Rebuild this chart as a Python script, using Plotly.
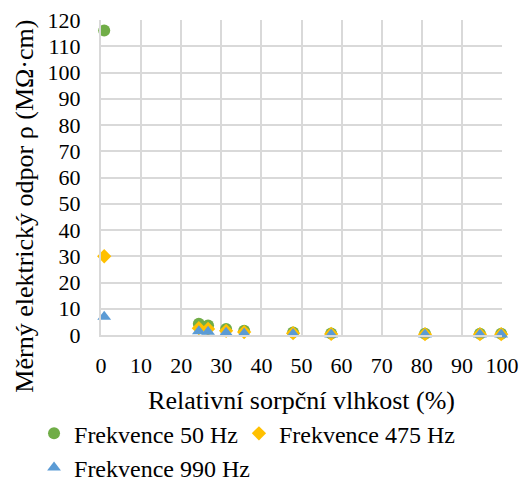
import plotly.graph_objects as go

# Relative sorption humidity (%) and resistivity (MΩ·cm) for three frequencies
humidity = [0.8, 24.4, 26.7, 31.2, 35.7, 47.9, 57.4, 80.8, 94.5, 99.8]
rho_50 = [116.0, 4.3, 3.6, 2.3, 1.6, 1.0, 0.6, 0.5, 0.5, 0.5]
rho_475 = [30.0, 2.6, 2.3, 1.6, 1.1, 0.7, 0.4, 0.3, 0.3, 0.3]
rho_990 = [7.0, 1.4, 1.2, 0.9, 0.6, 0.4, 0.2, 0.2, 0.2, 0.2]

# name, values, symbol, colour, size, legend group box
series = [
    ("Frekvence 50 Hz", rho_50, "circle", "#70ad47", 12, "legend"),
    ("Frekvence 475 Hz", rho_475, "diamond", "#ffc000", 11, "legend2"),
    ("Frekvence 990 Hz", rho_990, "triangle-up", "#5b9bd5", 12, "legend"),
]

x_ticks = list(range(0, 101, 10))
y_ticks = list(range(0, 121, 10))

x_title = "Relativní sorpční vlhkost (%)"
y_title = "Měrný elektrický odpor ρ (MΩ·cm)"

fig = go.Figure()
for name, vals, sym, col, size, leg in series:
    fig.add_trace(go.Scatter(
        x=humidity, y=vals, mode="markers", name=name, legend=leg,
        marker=dict(symbol=sym, color=col, size=size, line=dict(width=0)),
        cliponaxis=False,
    ))

font = "Liberation Serif"
grid = "#d9d9d9"
legend_common = dict(
    orientation="v", xanchor="left", yanchor="top", y=-0.242,
    font=dict(family=font, size=24), itemwidth=30, tracegroupgap=0,
    bgcolor="rgba(0,0,0,0)",
)
fig.update_layout(
    width=522, height=481,
    margin=dict(l=101, r=20, t=20, b=146, autoexpand=False),
    paper_bgcolor="white", plot_bgcolor="white",
    font=dict(family=font, size=22, color="#000000"),
    showlegend=True,
    legend=dict(x=-0.167, **legend_common),
    legend2=dict(x=0.344, **legend_common),
    xaxis=dict(
        range=[0, 100], tickvals=x_ticks, showgrid=True, gridcolor=grid,
        gridwidth=2, zeroline=False, showline=True, linecolor=grid,
        linewidth=2, ticks="", tickfont=dict(family=font, size=22),
        ticklabelstandoff=10, automargin=False,
        title=dict(text=x_title, font=dict(family=font, size=26), standoff=13),
    ),
    yaxis=dict(
        range=[0, 120], tickvals=y_ticks, showgrid=True, gridcolor=grid,
        gridwidth=2, zeroline=False, showline=True, linecolor=grid,
        linewidth=2, ticks="", tickfont=dict(family=font, size=22),
        ticklabelstandoff=14, automargin=False,
    ),
    annotations=[dict(
        text=y_title, textangle=-90, showarrow=False,
        xref="paper", yref="paper", x=-0.19, y=0.41,
        xanchor="center", yanchor="middle",
        font=dict(family=font, size=26),
    )],
)

fig.write_html("out.html")
